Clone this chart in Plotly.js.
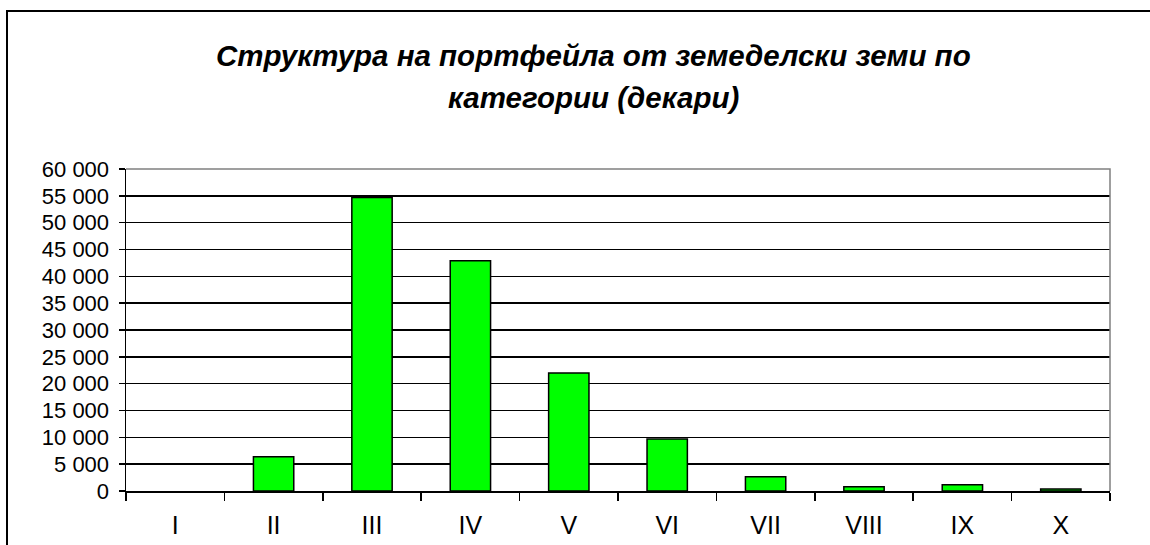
<!DOCTYPE html>
<html>
<head>
<meta charset="utf-8">
<script src="https://cdn.plot.ly/plotly-3.0.1.min.js"></script>
<style>
  html, body { margin: 0; padding: 0; background: #ffffff; }
  #frame { position: absolute; left: 6px; top: 10px; width: 1300px; height: 700px;
           border-left: 2px solid #000; border-top: 2px solid #000; pointer-events: none; }
  #chart { position: absolute; left: 0; top: 0; width: 1150px; height: 545px; }
</style>
</head>
<body>
<div id="frame"></div>
<div id="chart"></div>
<script>
const categories = ["I", "II", "III", "IV", "V", "VI", "VII", "VIII", "IX", "X"];
const hectares = [0, 6400, 54700, 42900, 22000, 9700, 2650, 800, 1170, 350];
const yTicks = [0, 5000, 10000, 15000, 20000, 25000, 30000, 35000, 40000, 45000, 50000, 55000, 60000];
const titleLine1 = "Структура на портфейла от земеделски земи по";
const titleLine2 = "категории (декари)";

const outlineWidths = hectares.map(v => v > 0 ? 1.5 : 0);

const trace = {
  type: "bar",
  x: categories,
  y: hectares,
  marker: { color: "#00ff00", line: { color: "#000000", width: outlineWidths } },
  hoverinfo: "x+y"
};

const titleFont = { size: 29.5, family: "Liberation Sans, Arial, sans-serif", color: "#000000" };

const layout = {
  width: 1150,
  height: 545,
  paper_bgcolor: "rgba(0,0,0,0)",
  plot_bgcolor: "#ffffff",
  margin: { l: 126, r: 40, t: 169, b: 54 },
  showlegend: false,
  bargap: 0.59,
  separators: ", ",
  font: { family: "Liberation Sans, Arial, sans-serif", color: "#000000" },
  annotations: [
    { text: "<b><i>" + titleLine1 + "</i></b>", xref: "paper", yref: "paper",
      x: 0.475, y: 1, yshift: 114, xanchor: "center", yanchor: "middle", showarrow: false,
      font: titleFont },
    { text: "<b><i>" + titleLine2 + "</i></b>", xref: "paper", yref: "paper",
      x: 0.475, y: 1, yshift: 72, xanchor: "center", yanchor: "middle", showarrow: false,
      font: titleFont }
  ],
  shapes: [
    { type: "path", xref: "paper", yref: "paper", path: "M0,1 L1,1 L1,0",
      line: { color: "#808080", width: 1.5 }, layer: "above" }
  ],
  xaxis: {
    type: "category",
    showline: true, linecolor: "#000000", linewidth: 1.5,
    ticks: "outside", tickson: "boundaries", ticklen: 8, tickwidth: 1.5, tickcolor: "#000000",
    showgrid: false,
    tickfont: { size: 25 },
    ticklabelstandoff: 11,
    fixedrange: true
  },
  yaxis: {
    range: [0, 60000],
    tickvals: yTicks,
    tickformat: ",d",
    showline: true, linecolor: "#000000", linewidth: 1.5,
    ticks: "outside", ticklen: 6, tickwidth: 1.5, tickcolor: "#000000",
    showgrid: true, gridcolor: "#000000", gridwidth: 1.5,
    zeroline: false,
    tickfont: { size: 22 },
    ticklabelstandoff: 5,
    fixedrange: true
  }
};

Plotly.newPlot("chart", [trace], layout, { displayModeBar: false, staticPlot: true });
</script>
</body>
</html>
